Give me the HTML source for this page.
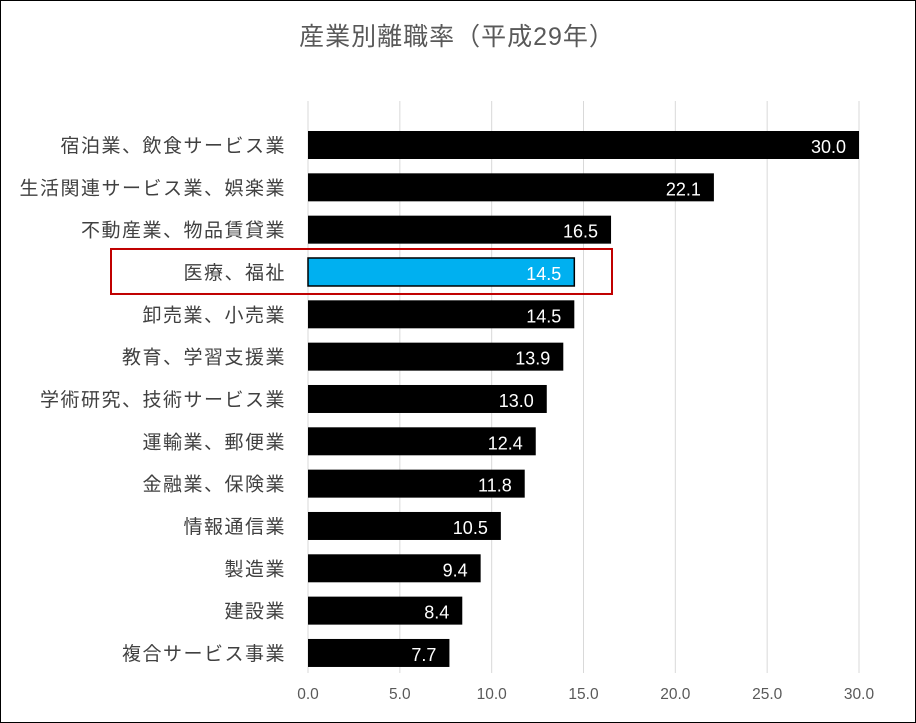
<!DOCTYPE html>
<html><head><meta charset="utf-8">
<style>
html,body{margin:0;padding:0;background:#fff;}
#wrap{position:relative;width:916px;height:723px;box-sizing:border-box;border:1px solid #000;overflow:hidden;}
svg text{font-family:"Liberation Sans","Noto Sans CJK JP",sans-serif;}
</style></head>
<body>
<div id="wrap">
<svg id="chart" width="916" height="723"></svg>
</div>
<script>
const categories=["宿泊業、飲食サービス業","生活関連サービス業、娯楽業","不動産業、物品賃貸業","医療、福祉","卸売業、小売業","教育、学習支援業","学術研究、技術サービス業","運輸業、郵便業","金融業、保険業","情報通信業","製造業","建設業","複合サービス事業"];
const values=[30.0,22.1,16.5,14.5,14.5,13.9,13.0,12.4,11.8,10.5,9.4,8.4,7.7];
const tickValues=[0,5,10,15,20,25,30];
const highlightIndex=3;

const NS="http://www.w3.org/2000/svg";
const svg=document.getElementById('chart');
const x0=307,x1=858,xmax=30;
const xs=v=>x0+(x1-x0)*v/xmax;
const yTop=144,step=42.33,barH=28;
const ys=i=>yTop+i*step;
function mk(tag,attrs,parent){const e=document.createElementNS(NS,tag);for(const k in attrs)e.setAttribute(k,attrs[k]);(parent||svg).appendChild(e);return e;}

const title=mk('text',{x:456,y:44,'text-anchor':'middle','font-size':25,'letter-spacing':1,fill:'#595959'});
title.textContent="産業別離職率（平成29年）";



tickValues.forEach(t=>{
  const g=mk('line',{x1:xs(t),x2:xs(t),y1:100,y2:672,stroke:'#d9d9d9','stroke-width':1});
  
  
  const tl=mk('text',{x:xs(t),y:698,'text-anchor':'middle','font-size':15.5,fill:'#595959'});
  tl.textContent=t.toFixed(1);
  
  
});

categories.forEach((c,i)=>{
  const y=ys(i);
  const hl=i===highlightIndex;
  const r=mk('rect',{x:x0,y:y-barH/2,width:xs(values[i])-x0,height:barH,fill:hl?'#00b0f0':'#000',stroke:'#000','stroke-width':hl?1.5:0});
  
  
  const lab=mk('text',{x:285,y:y+7,'text-anchor':'end','font-size':19,'letter-spacing':1.5,fill:'#404040'});
  lab.textContent=c;
  
  
  const v=mk('text',{x:xs(values[i])-13,y:y+8,'text-anchor':'end','font-size':18,fill:'#fff'});
  v.textContent=values[i].toFixed(1);
  
  
});

const box=mk('rect',{x:110,y:ys(highlightIndex)-23,width:501,height:45,fill:'none',stroke:'#c00000','stroke-width':2});


</script>
</body></html>
